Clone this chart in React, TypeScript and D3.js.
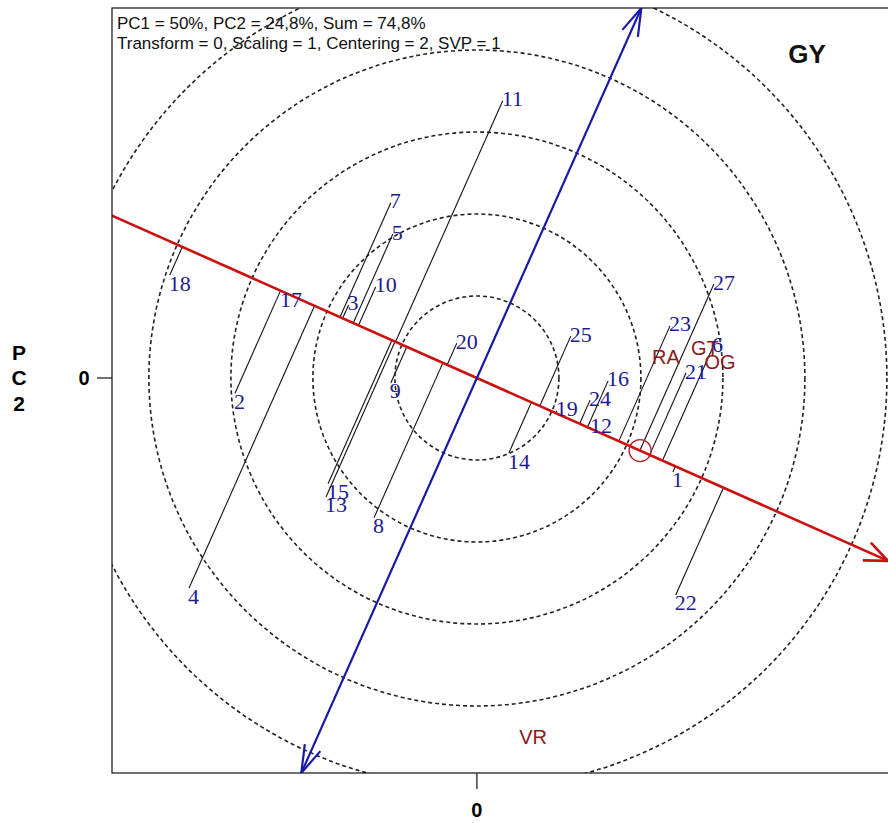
import React from 'react';
import * as d3 from 'd3';

// Genotype scores on the first two principal components
const genotypeNames = ['1', '2', '3', '4', '5', '6', '7', '8', '9', '10', '11', '12', '13', '14', '15', '16', '17', '18', '19', '20', '21', '22', '23', '24', '25', '27'];
const genotypePC1 = [4.78, -5.90, -3.13, -7.02, -2.05, 5.76, -2.10, -2.51, -2.10, -2.47, 0.63, 2.78, -3.68, 0.78, -3.63, 3.20, -4.78, -7.49, 1.95, -0.49, 5.10, 4.85, 4.71, 2.76, 2.29, 5.78];
const genotypePC2 = [-2.29, -0.37, 1.78, -5.12, 3.51, 0.76, 4.27, -3.41, -0.12, 2.22, 6.76, -1.20, -2.90, -1.83, -2.58, -0.07, 2.10, 2.51, -0.80, 0.85, 0.12, -5.29, 1.27, -0.54, 1.02, 2.29];

// Environment scores
const envNames = ['RA', 'GT', 'OG', 'VR'];
const envPC1 = [4.61, 5.56, 5.93, 1.37];
const envPC2 = [0.51, 0.73, 0.39, -8.76];

// Average environment coordinate (defines the AEC abscissa)
const averageEnv = [3.98, -1.77];
const aecArrowLength = 10.97;

// Concentric reference circles (radius in PC units)
const circleRadii = [2, 4, 6, 8, 10];

const xTicks = [0];
const yTicks = [0];
const xDomain = [-8.9, 10.3];
const yDomain = [-9.63, 9.02];

const headerLines = ['PC1 = 50%, PC2 = 24,8%, Sum = 74,8%', 'Transform = 0, Scaling = 1, Centering = 2, SVP = 1'];
const traitName = 'GY';
const yAxisTitle = ['P', 'C', '2'];

const W = 888;
const H = 823;
const left = 112;
const top = 8;
const bottom = 773;
const unit = 41;
const right = left + (xDomain[1] - xDomain[0]) * unit;

const x = d3.scaleLinear().domain(xDomain).range([left, right]);
const y = d3.scaleLinear().domain(yDomain).range([bottom, top]);

function arrowHead(tip: [number, number], from: [number, number], len: number, angleDeg: number) {
  const dx = from[0] - tip[0];
  const dy = from[1] - tip[1];
  const d = Math.hypot(dx, dy);
  const ux = dx / d;
  const uy = dy / d;
  const a = (angleDeg * Math.PI) / 180;
  const rot = (s: number) => [
    tip[0] + len * (ux * Math.cos(s * a) - uy * Math.sin(s * a)),
    tip[1] + len * (ux * Math.sin(s * a) + uy * Math.cos(s * a)),
  ];
  const p1 = rot(1);
  const p2 = rot(-1);
  return `M${p1[0]},${p1[1]}L${tip[0]},${tip[1]}L${p2[0]},${p2[1]}`;
}

export default function App() {
  const aLen = Math.hypot(averageEnv[0], averageEnv[1]);
  const u = [averageEnv[0] / aLen, averageEnv[1] / aLen];
  const v = [-u[1], u[0]];

  // AEC abscissa: full line across the plot plus an arrow at its positive end
  const far = 40;
  const redLine = d3.line()([
    [x(-u[0] * far), y(-u[1] * far)],
    [x(u[0] * far), y(u[1] * far)],
  ]);
  const redTip: [number, number] = [x(u[0] * aecArrowLength), y(u[1] * aecArrowLength)];
  const origin: [number, number] = [x(0), y(0)];

  // AEC ordinate: perpendicular through the origin, ending on the plot border
  const tTop = yDomain[1] / v[1];
  const tBottom = yDomain[0] / v[1];
  const blueTop: [number, number] = [x(v[0] * tTop), y(v[1] * tTop)];
  const blueBottom: [number, number] = [x(v[0] * tBottom), y(v[1] * tBottom)];

  const genotypes = genotypeNames.map((name, i) => {
    const gx = genotypePC1[i];
    const gy = genotypePC2[i];
    const t = gx * u[0] + gy * u[1];
    const perp = gx * v[0] + gy * v[1];
    return { name, gx, gy, px: t * u[0], py: t * u[1], perp };
  });

  const tickFont = { fontFamily: 'Liberation Sans, Arial, sans-serif', fontWeight: 700, fontSize: 20 };

  return (
    <svg width={W} height={H} style={{ position: 'absolute', left: 0, top: 0, background: '#fff' }}>
      <defs>
        <clipPath id="plotArea">
          <rect x={left} y={top} width={right - left} height={bottom - top} />
        </clipPath>
      </defs>
      <rect x={0} y={0} width={W} height={H} fill="#fff" />
      <g clipPath="url(#plotArea)">
        {circleRadii.map((r) => (
          <circle key={r} cx={x(0)} cy={y(0)} r={x(r) - x(0)} fill="none" stroke="#222" strokeWidth={1.6} strokeDasharray="4 3" />
        ))}
        {genotypes.map((g) => (
          <line key={'p' + g.name} x1={x(g.gx)} y1={y(g.gy)} x2={x(g.px)} y2={y(g.py)} stroke="#111" strokeWidth={1.1} />
        ))}
        <path d={redLine || ''} stroke="#cc1010" strokeWidth={2.6} fill="none" />
        <path d={arrowHead(redTip, origin, 25, 23)} stroke="#cc1010" strokeWidth={2.6} fill="none" />
        <line x1={blueBottom[0]} y1={blueBottom[1]} x2={blueTop[0]} y2={blueTop[1]} stroke="#1a1aa8" strokeWidth={2.2} />
        <path d={arrowHead(blueTop, origin, 29, 17)} stroke="#1a1aa8" strokeWidth={2.2} fill="none" />
        <path d={arrowHead(blueBottom, origin, 29, 17)} stroke="#1a1aa8" strokeWidth={2.2} fill="none" />
        <circle cx={x(averageEnv[0])} cy={y(averageEnv[1])} r={11} fill="none" stroke="#b02020" strokeWidth={1.3} />
        {envNames.map((n, i) => (
          <text key={n} x={x(envPC1[i])} y={y(envPC2[i])} textAnchor="middle" dominantBaseline="central"
            fontFamily="Liberation Sans, Arial, sans-serif" fontSize={20} fill="#8b1a1a">{n}</text>
        ))}
        {genotypes.map((g) => (
          <text key={'t' + g.name} x={x(g.gx) - 1} y={y(g.gy) + (g.perp >= 0 ? -2 : 8)} dominantBaseline="central"
            fontFamily="Liberation Serif, Times New Roman, serif" fontSize={22} fill="#1c1c8e">{g.name}</text>
        ))}
      </g>
      <rect x={left} y={top} width={right - left} height={bottom - top} fill="none" stroke="#111" strokeWidth={1.2} />

      {xTicks.map((t) => (
        <g key={'x' + t}>
          <line x1={x(t)} x2={x(t)} y1={bottom} y2={bottom + 16} stroke="#111" strokeWidth={1.2} />
          <text x={x(t)} y={810} textAnchor="middle" dominantBaseline="central" {...tickFont}>{t}</text>
        </g>
      ))}
      {yTicks.map((t) => (
        <g key={'y' + t}>
          <line x1={left - 15} x2={left} y1={y(t)} y2={y(t)} stroke="#111" strokeWidth={1.2} />
          <text x={84} y={y(t)} textAnchor="middle" dominantBaseline="central" {...tickFont}>{t}</text>
        </g>
      ))}
      {yAxisTitle.map((c, i) => (
        <text key={c + i} x={19} y={352 + i * 25.5} textAnchor="middle" dominantBaseline="central"
          fontFamily="Liberation Sans, Arial, sans-serif" fontWeight={700} fontSize={21}>{c}</text>
      ))}

      {headerLines.map((line, i) => (
        <text key={i} x={117} y={29 + i * 19.5} fontFamily="Liberation Sans, Arial, sans-serif" fontSize={17} fill="#111">{line}</text>
      ))}
      <text x={807} y={63} textAnchor="middle" fontFamily="Liberation Sans, Arial, sans-serif" fontWeight={700} fontSize={26} fill="#111">{traitName}</text>
    </svg>
  );
}
